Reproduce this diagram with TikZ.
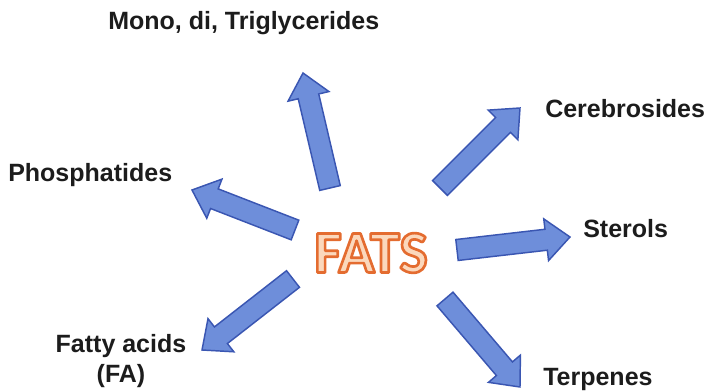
\documentclass[tikz,border=0pt]{standalone}
\usepackage{fontspec}
\setmainfont{Liberation Sans}
\newfontfamily\fatsfont{Carlito}
\usetikzlibrary{calc}
\definecolor{arrowfill}{RGB}{110,142,218}
\definecolor{arrowline}{RGB}{58,86,178}
\definecolor{fatsline}{RGB}{228,108,48}
\definecolor{fatsfill}{RGB}{251,216,188}
\definecolor{labeltext}{RGB}{28,28,28}
\tikzset{
  labeltxt/.style={font=\fontsize{18.75}{22.5}\selectfont\bfseries, text=labeltext, inner sep=0pt},
  fatsstyle/.style={font=\fatsfont\bfseries\fontsize{45}{50}\selectfont, inner sep=0pt},
  fatarrow/.style={fill=arrowfill, draw=arrowline, line width=1.1pt, line join=miter},
}
\newcommand\blockarrow[2]{%
  \coordinate (hb) at ($(#2)!18pt!(#1)$);
  \path[fatarrow] ($(#1)!7.9pt!90:(#2)$) -- ($(hb)!7.9pt!90:(#2)$) -- ($(hb)!15.75pt!90:(#2)$) -- (#2)
     -- ($(hb)!15.75pt!-90:(#2)$) -- ($(hb)!7.9pt!-90:(#2)$) -- ($(#1)!7.9pt!-90:(#2)$) -- cycle;
}
\newcommand\outlinedtext[1]{%
  \special{pdf:literal direct 2 Tr 2 w 1 j 0.894 0.424 0.188 RG}#1\special{pdf:literal direct 0 Tr}}
\begin{document}
\begin{tikzpicture}[x=0.75pt,y=-0.75pt]
\useasboundingbox (0,0) rectangle (708,392);
% labels
\node[labeltxt, anchor=base west] (mono) at (108,30) {Mono, di, Triglycerides};
\node[labeltxt, anchor=base west] (phos) at (8,182) {Phosphatides};
\node[labeltxt, anchor=base west] (cere) at (545,118) {Cerebrosides};
\node[labeltxt, anchor=base west] (ster) at (583,238) {Sterols};
\node[labeltxt, anchor=north, align=center] (fatty) at (121,334) {Fatty acids\\(FA)};
\node[labeltxt, anchor=base west] (terp) at (543,386) {Terpenes};
% arrows
\coordinate (t1) at (330,188); \coordinate (h1) at (303,73);
\coordinate (t2) at (295,230); \coordinate (h2) at (192,190);
\coordinate (t3) at (440,188); \coordinate (h3) at (520,108);
\coordinate (t4) at (457,250); \coordinate (h4) at (570,237);
\coordinate (t5) at (293,279); \coordinate (h5) at (202,350);
\coordinate (t6) at (445,299); \coordinate (h6) at (520,387);
\blockarrow{t1}{h1}
\blockarrow{t2}{h2}
\blockarrow{t3}{h3}
\blockarrow{t4}{h4}
\blockarrow{t5}{h5}
\blockarrow{t6}{h6}
% FATS outlined text
\node[fatsstyle, text=fatsfill] (fats) at (371,253) {\outlinedtext{FATS}};
\end{tikzpicture}
\end{document}
